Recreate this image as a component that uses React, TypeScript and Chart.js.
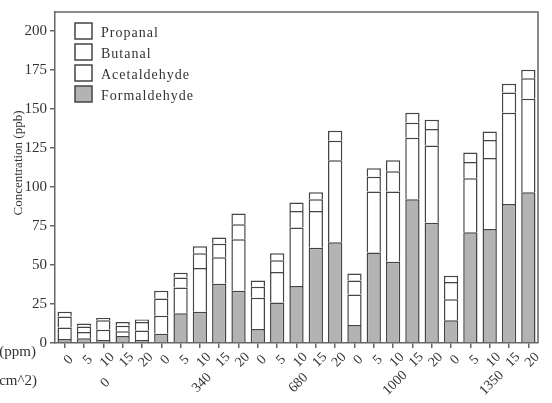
import React, { useEffect, useRef } from "react";
import { Chart, registerables } from "chart.js";

Chart.register(...registerables);

const ppmLevels = ["0", "5", "10", "15", "20"];
const areaLevels = ["0", "340", "680", "1000", "1350"];
const yTickValues = [0, 25, 50, 75, 100, 125, 150, 175, 200];

const formaldehyde = [2.5, 3, 2, 4.5, 2, 6, 19, 20, 38, 33.5, 9, 26, 36.5, 61, 64.5, 11.5, 58, 52, 92, 77, 14.5, 71, 73, 89, 96.5];
const acetaldehyde = [7.5, 4, 6.5, 3, 6, 11.5, 16.5, 28, 17, 33, 20, 19.5, 37.5, 23.5, 52.5, 19.5, 39, 45, 39.5, 49.5, 13.5, 34.5, 45.5, 58.5, 60];
const butanal = [7, 3.5, 6, 3.5, 5.5, 11, 6.5, 9.5, 8.5, 9.5, 7, 7.5, 10.5, 7.5, 12.5, 9, 9.5, 13, 9.5, 10.5, 11, 10.5, 11.5, 13, 13];
const propanal = [3, 2, 1.5, 2.5, 1.5, 5, 3, 4.5, 4, 7, 4, 4.5, 5.5, 4.5, 6.5, 4.5, 5.5, 7, 6.5, 6, 4, 6, 5.5, 5.5, 5.5];

const FONT = '"Liberation Serif", "Times New Roman", serif';
const EDGE = "#444";
const AXIS = "#666";
const GRAY = "#b3b3b3";

export default function App() {
  const ref = useRef<HTMLCanvasElement>(null);

  useEffect(() => {
    if (!ref.current) return;
    const labels = areaLevels.flatMap(() => ppmLevels);
    const mk = (label: string, data: number[], fill: string) => ({
      label,
      data,
      backgroundColor: fill,
      borderColor: EDGE,
      borderWidth: 1.5,
      barPercentage: 0.74,
      categoryPercentage: 1,
    });

    const overlay = {
      id: "overlay",
      afterDraw(chart: any) {
        const { ctx, chartArea: ca } = chart;
        const x = chart.scales.x;
        ctx.save();
        // frame top & right
        ctx.strokeStyle = AXIS;
        ctx.lineWidth = 1.5;
        ctx.beginPath();
        ctx.moveTo(ca.left, ca.top);
        ctx.lineTo(ca.right, ca.top);
        ctx.lineTo(ca.right, ca.bottom);
        ctx.stroke();

        ctx.fillStyle = "#333";
        ctx.textAlign = "center";
        ctx.textBaseline = "middle";
        ctx.font = `14px ${FONT}`;
        const n = chart.data.labels.length;
        for (let i = 0; i < n; i++) {
          const px = x.getPixelForValue(i);
          ctx.save();
          ctx.translate(px + 4, ca.bottom + 17);
          ctx.rotate(-Math.PI / 4);
          ctx.fillText(String(chart.data.labels[i]), 0, 0);
          ctx.restore();
        }
        areaLevels.forEach((a, g) => {
          const px = x.getPixelForValue(g * ppmLevels.length + 2);
          ctx.save();
          ctx.translate(px + 2, ca.bottom + 40);
          ctx.rotate(-Math.PI / 4);
          ctx.fillText(a, 0, 0);
          ctx.restore();
        });

        // clipped axis titles at left
        ctx.textAlign = "right";
        ctx.font = `15px ${FONT}`;
        ctx.fillText("(ppm)", 36, ca.bottom + 9);
        ctx.fillText("(cm^2)", 37, ca.bottom + 38);

        // y title
        ctx.save();
        ctx.translate(19, 163);
        ctx.rotate(-Math.PI / 2);
        ctx.textAlign = "center";
        ctx.font = `13px ${FONT}`;
        ctx.fillText("Concentration (ppb)", 0, 0);
        ctx.restore();

        // legend
        const order = [3, 2, 1, 0];
        ctx.textAlign = "left";
        ctx.font = `14px ${FONT}`;
        (ctx as any).letterSpacing = "1px";
        order.forEach((di, r) => {
          const ds = chart.data.datasets[di];
          const top = ca.top + 11 + r * 21;
          const left = ca.left + 20;
          ctx.fillStyle = ds.backgroundColor;
          ctx.fillRect(left, top, 17, 16);
          ctx.strokeStyle = EDGE;
          ctx.lineWidth = 1.5;
          ctx.strokeRect(left, top, 17, 16);
          ctx.fillStyle = "#333";
          ctx.fillText(ds.label, left + 26, top + 10);
        });
        ctx.restore();
      },
    };

    const chart = new Chart(ref.current, {
      type: "bar",
      data: {
        labels,
        datasets: [
          mk("Formaldehyde", formaldehyde, GRAY),
          mk("Acetaldehyde", acetaldehyde, "#ffffff"),
          mk("Butanal", butanal, "#ffffff"),
          mk("Propanal", propanal, "#ffffff"),
        ],
      },
      options: {
        responsive: false,
        animation: false,
        layout: { padding: { top: 7, right: 14, left: 0, bottom: 0 } },
        plugins: { legend: { display: false }, tooltip: { enabled: false } },
        scales: {
          x: {
            stacked: true,
            grid: { display: true, drawOnChartArea: false, drawTicks: true, tickLength: 5, offset: false, color: AXIS, lineWidth: 1.5 },
            border: { display: true, color: AXIS, width: 1.5 },
            ticks: { display: false },
            afterFit: (s: any) => { s.height = 60; },
          },
          y: {
            stacked: true,
            min: 0,
            max: 212,
            afterBuildTicks: (s: any) => { s.ticks = yTickValues.map((v) => ({ value: v })); },
            grid: { drawOnChartArea: false, tickLength: 5, color: AXIS, lineWidth: 1.5 },
            border: { display: true, color: AXIS, width: 1.5 },
            ticks: { font: { family: FONT, size: 15 }, color: "#333", padding: 3 },
            afterFit: (s: any) => { s.width = 55; },
          },
        },
      } as any,
      plugins: [overlay],
    });
    return () => chart.destroy();
  }, []);

  return (
    <div style={{ position: "absolute", left: 0, top: 0, width: 552, height: 403, background: "#fff" }}>
      <canvas ref={ref} width={552} height={403} style={{ display: "block" }} />
    </div>
  );
}
